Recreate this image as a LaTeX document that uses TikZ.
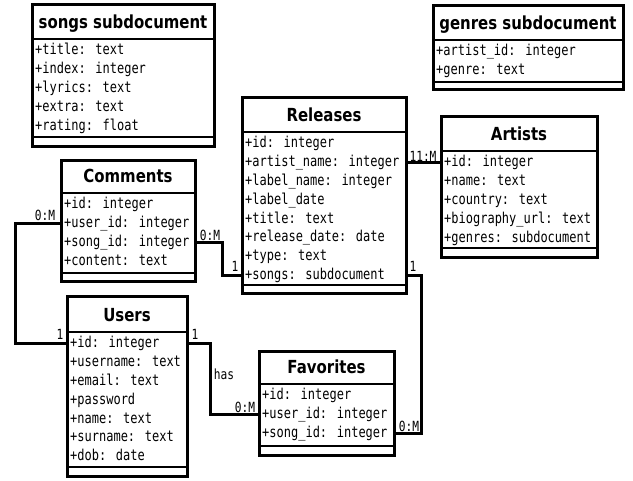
\documentclass[tikz,border=0pt]{standalone}
\usepackage{fontspec}
\newfontfamily\titlefont[FakeStretch=0.83]{DejaVu Sans}
\newfontfamily\rowfont[FakeStretch=0.80]{DejaVu Sans Mono}
\tikzset{
  boxframe/.style={draw, line width=3pt, inner sep=0pt, outer sep=0pt, anchor=north west},
  sepline/.style={line width=2.8pt},
  rowtext/.style={anchor=base west, inner sep=0pt, text height=10.5pt, text depth=2.5pt,
    font=\rowfont\fontsize{15}{19}\selectfont},
  titletext/.style={anchor=base, inner sep=0pt, font=\titlefont\bfseries\fontsize{18}{20}\selectfont},
  lbl/.style={inner sep=0pt, font=\rowfont\fontsize{14}{16}\selectfont},
  link/.style={draw, line width=3pt},
}
% #1 name, #2 left, #3 top, #4 right, #5 title separator, #6 body bottom, #7 bottom, #8 title, #9 rows
\newcommand\umlclass[9]{%
  \node[boxframe, minimum width={#4-#2}, minimum height={#7-#3}] (#1) at (#2,#3) {};
  \draw[sepline] (#2,#5) -- (#4,#5);
  \draw[sepline] (#2,#6) -- (#4,#6);
  \node[titletext] (#1-title) at ({(#2+#4)/2},{#5-10.5}) {#8};
  \foreach \t [count=\i] in {#9} {
    \node[rowtext] (#1-\i) at ({#2+3},{#5+16+18.8*(\i-1)}) {\t};
  }
}
\begin{document}
\begin{tikzpicture}[x=1pt,y=-1pt]
\useasboundingbox[fill=white] (0,0) rectangle (633,481);

\umlclass{songs}{32}{5}{214}{39}{137}{147}{songs subdocument}%
  {+title: text,+index: integer,+lyrics: text,+extra: text,+rating: float}
\umlclass{genres}{433}{6}{623}{40}{82}{90}{genres subdocument}%
  {+artist\_id: integer,+genre: text}
\umlclass{comments}{61}{161}{195}{193}{273}{282}{Comments}%
  {+id: integer,+user\_id: integer,+song\_id: integer,+content: text}
\umlclass{releases}{242}{98}{406}{132}{285}{294}{Releases}%
  {+id: integer,+artist\_name: integer,+label\_name: integer,+label\_date,+title: text,+release\_date: date,+type: text,+songs: subdocument}
\umlclass{artists}{441}{117}{597}{151}{248}{258}{Artists}%
  {+id: integer,+name: text,+country: text,+biography\_url: text,+genres: subdocument}
\umlclass{users}{67}{297}{187}{332}{467}{477}{Users}%
  {+id: integer,+username: text,+email: text,+password,+name: text,+surname: text,+dob: date}
\umlclass{favorites}{259}{352}{394}{384}{446}{456}{Favorites}%
  {+id: integer,+user\_id: integer,+song\_id: integer}

% connectors
\draw[link] (comments.west |- comments-2) -- ++(-46,0) |- (users.west |- users-1);
\draw[link] (comments.east |- comments-3) -- ++(27,0) |- (releases.west |- releases-8);
\draw[link] (releases.east |- releases-2) -- (artists.west |- releases-2);
\draw[link] (releases.east |- releases-8) -- ++(15,0) |- (favorites.east |- favorites-3);
\draw[link] (users.east |- users-1) -- ++(23,0) |- (favorites.west |- favorites-2);

% multiplicity labels
\node[lbl] (m1) at (45,215) {0:M};
\node[lbl] (m2) at (60,334) {1};
\node[lbl] (m3) at (210,235) {0:M};
\node[lbl] (m4) at (235,266) {1};
\node[lbl] (m5) at (423,156) {11:M};
\node[lbl] (m6) at (413,266) {1};
\node[lbl] (m7) at (409,426) {0:M};
\node[lbl] (m8) at (195,334) {1};
\node[lbl] (m9) at (224,374) {has};
\node[lbl] (m10) at (245,407) {0:M};
\end{tikzpicture}
\end{document}
